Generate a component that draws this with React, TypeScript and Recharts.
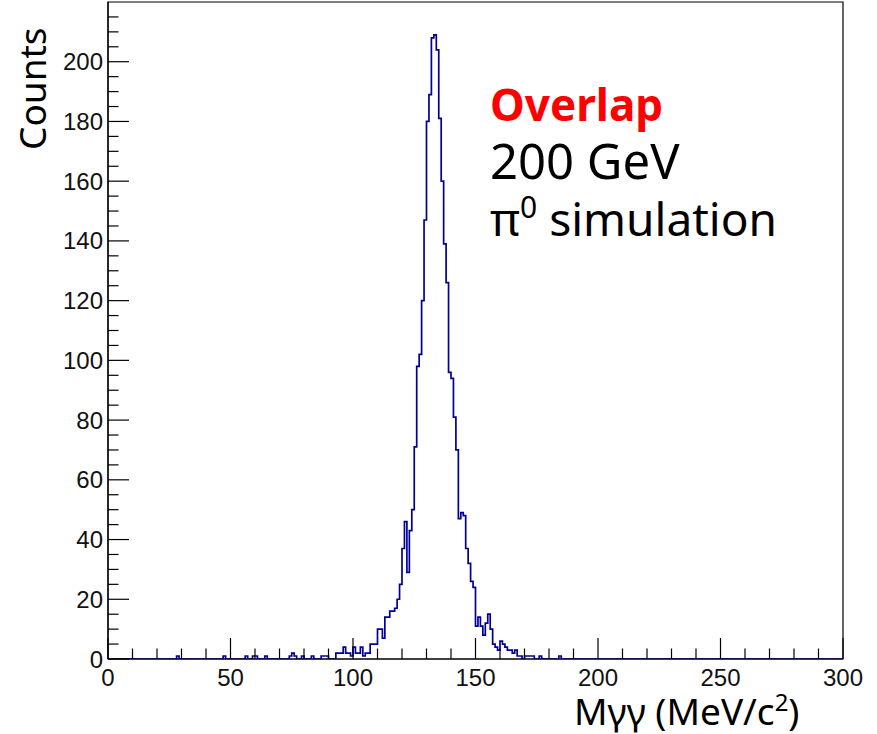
import React from 'react';
import { LineChart, Line, XAxis, YAxis, ReferenceArea } from 'recharts';

// ---- data (1 MeV bins, lower edge -> counts) ----
const sparseBins = [28, 47, 56, 59, 60, 64, 74, 75, 76, 79, 83];
const sparseCounts = [1, 1, 1, 1, 1, 1, 1, 2, 1, 1, 1];

const coreStart = 86;
const coreCounts = [
  0, 1, 1, 1, 0, 0, 0, 2, 2, 2, // 86-95
  4, 2, 2, 1, 4, 2, 2, 4, 1, 2, // 96-105
  2, 5, 5, 5, 10, 10, 7, 14, 14, 16, // 106-115
  16, 17, 20, 25, 37, 46, 29, 43, 50, 71, // 116-125
  98, 102, 120, 147, 180, 189, 208, 209, 204, 181, // 126-135
  160, 139, 126, 96, 94, 81, 70, 47, 49, 48, // 136-145
  37, 32, 26, 24, 11, 14, 11, 8, 12, 15, // 146-155
  10, 5, 4, 3, 6, 5, 4, 3, 3, 2, // 156-165
  3, 1, 1, 0, 1, 1, 1, 1, 0, 0, // 166-175
  1, 0, 0, 0, 0, 0, 0, 0, 1, 0, // 176-185
];

const xTickValues = [0, 10, 20, 30, 40, 50, 60, 70, 80, 90, 100, 110, 120, 130, 140, 150, 160, 170, 180, 190, 200, 210, 220, 230, 240, 250, 260, 270, 280, 290, 300];
const xLabelValues = [0, 50, 100, 150, 200, 250, 300];
const yTickValues = [0, 5, 10, 15, 20, 25, 30, 35, 40, 45, 50, 55, 60, 65, 70, 75, 80, 85, 90, 95, 100, 105, 110, 115, 120, 125, 130, 135, 140, 145, 150, 155, 160, 165, 170, 175, 180, 185, 190, 195, 200, 205, 210, 215];
const yLabelValues = [0, 20, 40, 60, 80, 100, 120, 140, 160, 180, 200];

const xRange = [0, 300];
const yRange = [0, 220];

// build histogram table
const histogram: { m: number; counts: number }[] = [];
for (let b = xRange[0]; b < xRange[1]; b++) histogram.push({ m: b, counts: 0 });
sparseBins.forEach((b, i) => { histogram[b].counts = sparseCounts[i]; });
coreCounts.forEach((c, i) => { histogram[coreStart + i].counts = c; });
histogram.push({ m: xRange[1], counts: 0 });

const TICK_FONT = '"Liberation Sans", Arial, Helvetica, sans-serif';
const TEXT_FONT = '"Noto Sans", "Open Sans", sans-serif';

const XTick = (props: any) => {
  const { x, y, payload } = props;
  const v = payload.value;
  const major = v % 50 === 0;
  return (
    <g>
      <line x1={x} x2={x} y1={y} y2={y - (major ? 21 : 10.5)} stroke="#000" strokeWidth={1.2} />
      {xLabelValues.includes(v) && (
        <text x={x} y={y + 27} textAnchor="middle" fontFamily={TICK_FONT} fontSize={24} fill="#111">
          {v}
        </text>
      )}
    </g>
  );
};

const YTick = (props: any) => {
  const { x, y, payload } = props;
  const v = payload.value;
  const major = v % 20 === 0;
  return (
    <g>
      <line x1={x} x2={x + (major ? 21 : 10.5)} y1={y} y2={y} stroke="#000" strokeWidth={1.2} />
      {yLabelValues.includes(v) && (
        <text x={x - 5} y={y + 8.5} textAnchor="end" fontFamily={TICK_FONT} fontSize={24} fill="#111">
          {v}
        </text>
      )}
    </g>
  );
};

export default function App() {
  return (
    <div style={{ position: 'absolute', left: 0, top: 0, width: 877, height: 734, background: '#fff' }}>
      <LineChart
        width={877}
        height={734}
        data={histogram}
        margin={{ top: 2, right: 34, bottom: 0, left: 0 }}
      >
        <XAxis
          dataKey="m"
          type="number"
          domain={xRange}
          ticks={xTickValues}
          interval={0}
          tick={<XTick />}
          tickSize={0}
          tickMargin={0}
          height={75}
          axisLine={{ stroke: '#000', strokeWidth: 1.2 }}
          tickLine={false}
          allowDataOverflow
        />
        <YAxis
          type="number"
          domain={yRange}
          ticks={yTickValues}
          interval={0}
          tick={<YTick />}
          tickSize={0}
          tickMargin={0}
          width={108}
          axisLine={{ stroke: '#000', strokeWidth: 1.2 }}
          tickLine={false}
          allowDataOverflow
        />
        <ReferenceArea x1={0} x2={300} y1={0} y2={220} fill="none" stroke="#000" strokeWidth={1.2} />
        <Line
          type="stepAfter"
          dataKey="counts"
          stroke="#000099"
          strokeWidth={1.7}
          dot={false}
          isAnimationActive={false}
        />
      </LineChart>
      <svg
        width={877}
        height={734}
        style={{ position: 'absolute', left: 0, top: 0, pointerEvents: 'none' }}
      >
        <text transform="translate(46,150) rotate(-90)" fontFamily={TEXT_FONT} fontSize={37} fill="#000">
          Counts
        </text>
        <text x={574} y={725} fontFamily={TEXT_FONT} fontSize={37} fill="#000">
          Mγγ (MeV/c<tspan dy={-14} fontSize={24}>2</tspan><tspan dy={14}>)</tspan>
        </text>
        <text x={490} y={121} fontFamily={TEXT_FONT} fontSize={44} fontWeight="bold" fill="#ff0000">
          Overlap
        </text>
        <text x={490} y={179} fontFamily={TEXT_FONT} fontSize={49} fill="#000">
          200 GeV
        </text>
        <text x={490} y={236} fontFamily={TEXT_FONT} fontSize={46} fill="#000">
          π<tspan dy={-18} fontSize={30}>0</tspan><tspan dy={18}> simulation</tspan>
        </text>
      </svg>
    </div>
  );
}
